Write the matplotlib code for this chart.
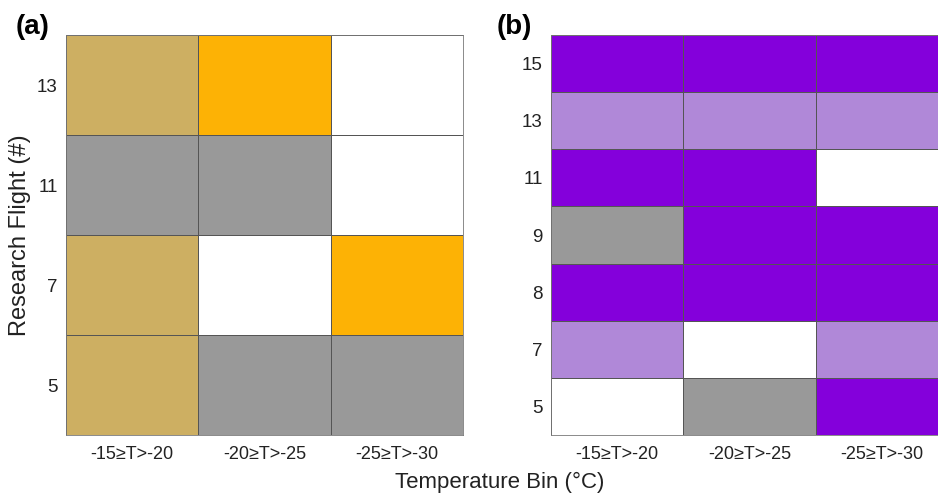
import numpy as np
import matplotlib
matplotlib.use("Agg")
import matplotlib.pyplot as plt
from matplotlib.colors import ListedColormap

# temperature bins (x) and research flights (y, bottom to top)
temp_bins = ["-15\u2265T>-20", "-20\u2265T>-25", "-25\u2265T>-30"]
flights_a = ["5", "7", "11", "13"]
flights_b = ["5", "7", "8", "9", "11", "13", "15"]

# category codes per cell, rows follow the flight lists
# (a): 0 none, 1 gray, 2 tan, 3 orange
codes_a = [
    [2, 1, 1],  # RF5
    [2, 0, 3],  # RF7
    [1, 1, 0],  # RF11
    [2, 3, 0],  # RF13
]
# (b): 0 none, 1 gray, 2 light purple, 3 purple
codes_b = [
    [0, 1, 3],  # RF5
    [2, 0, 2],  # RF7
    [3, 3, 3],  # RF8
    [1, 3, 3],  # RF9
    [3, 3, 0],  # RF11
    [2, 2, 2],  # RF13
    [3, 3, 3],  # RF15
]

cmap_a = ListedColormap(["#ffffff", "#999999", "#cdaf62", "#fdb205"])
cmap_b = ListedColormap(["#ffffff", "#999999", "#b088d8", "#8400db"])

plt.rcParams["font.family"] = ["Liberation Sans", "DejaVu Sans"]

fig = plt.figure(figsize=(9.38, 4.95), dpi=100)
W, H = 938, 495
ax_a = fig.add_axes([66 / W, 1 - 435 / H, 397 / W, 400 / H])
ax_b = fig.add_axes([551 / W, 1 - 435 / H, 397 / W, 400 / H])

for ax, codes, flights, cmap in [(ax_a, codes_a, flights_a, cmap_a),
                                 (ax_b, codes_b, flights_b, cmap_b)]:
    arr = np.array(codes)
    ax.pcolormesh(np.arange(len(temp_bins) + 1), np.arange(len(flights) + 1), arr,
                  cmap=cmap, vmin=-0.5, vmax=3.5, edgecolor="#555555", linewidth=0.6)
    ax.set_xlim(0, len(temp_bins))
    ax.set_ylim(0, len(flights))
    ax.set_xticks(np.arange(len(temp_bins)) + 0.5)
    ax.set_xticklabels(temp_bins, fontsize=13)
    ax.set_yticks(np.arange(len(flights)) + 0.5)
    ax.set_yticklabels(flights, fontsize=13.5)
    ax.tick_params(axis="y", length=0, pad=6, colors="#222222")
    ax.tick_params(axis="x", length=0, pad=8, colors="#222222")
    for s in ax.spines.values():
        s.set_color("#777777")
        s.set_linewidth(0.6)

fig.text(33 / W, 1 - 27 / H, "(a)", fontsize=20, fontweight="bold", ha="center", va="center")
fig.text(514 / W, 1 - 27 / H, "(b)", fontsize=20, fontweight="bold", ha="center", va="center")
fig.text(20 / W, 1 - 235 / H, "Research Flight (#)", fontsize=17, color="#222222",
         rotation=90, ha="center", va="center")
fig.text(500 / W, 1 - 482 / H, "Temperature Bin (\u00b0C)", fontsize=16,
         color="#222222", ha="center", va="center")

fig.savefig("out.png", dpi=100)
